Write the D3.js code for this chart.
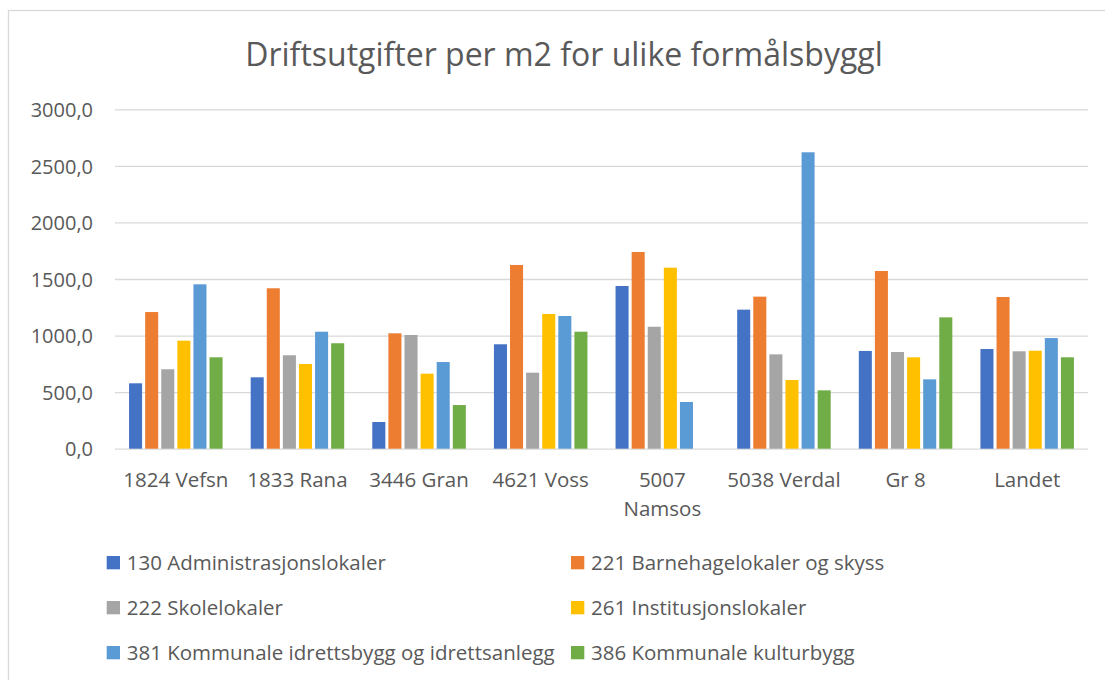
<!DOCTYPE html>
<html>
<head>
<meta charset="utf-8">
<script src="https://cdn.jsdelivr.net/npm/d3@7"></script>
<style>
  html, body { margin: 0; padding: 0; background: #fff; }
  svg { display: block; font-family: "Open Sans", "Noto Sans", sans-serif; }
</style>
</head>
<body>
<svg id="chart" width="1105" height="680"></svg>
<script>
// Kommuner / grupper langs x-aksen
const categories = ["1824 Vefsn", "1833 Rana", "3446 Gran", "4621 Voss", "5007 Namsos", "5038 Verdal", "Gr 8", "Landet"];

// Funksjonsområder (serier)
const seriesNames = [
  "130 Administrasjonslokaler",
  "221 Barnehagelokaler og skyss",
  "222 Skolelokaler",
  "261 Institusjonslokaler",
  "381 Kommunale idrettsbygg og idrettsanlegg",
  "386 Kommunale kulturbygg"
];

// Driftsutgifter per m2, én liste per serie (samme rekkefølge som categories)
const adm130         = [578, 631, 236, 923, 1438, 1229, 864, 881];
const barnehage221   = [1208, 1418, 1020, 1624, 1739, 1344, 1571, 1341];
const skole222       = [702, 826, 1005, 672, 1078, 834, 855, 861];
const institusjon261 = [955, 749, 663, 1191, 1600, 607, 808, 866];
const idrett381      = [1453, 1034, 766, 1173, 413, 2620, 613, 978];
const kultur386      = [808, 932, 386, 1034, null, 516, 1161, 808];

const seriesValues = [adm130, barnehage221, skole222, institusjon261, idrett381, kultur386];
const seriesColors = ["#4472C4", "#ED7D31", "#A5A5A5", "#FFC000", "#5B9BD5", "#70AD47"];

const yTicks = [0, 500, 1000, 1500, 2000, 2500, 3000];
const title = "Driftsutgifter per m2 for ulike formålsbyggl";

const textColor = "#595959";
const gridColor = "#D9D9D9";

const svg = d3.select("#chart");

// Ramme rundt diagramområdet
svg.append("rect")
  .attr("x", 8.5).attr("y", 10.5)
  .attr("width", 1200).attr("height", 800)
  .attr("fill", "#fff")
  .attr("stroke", gridColor).attr("stroke-width", 1.3);

// Tittel
svg.append("text")
  .attr("x", 564).attr("y", 66)
  .attr("text-anchor", "middle")
  .attr("font-size", 32)
  .attr("font-weight", 400)
  .attr("fill", textColor)
  .text(title);

const plotLeft = 115, plotRight = 1088, plotTop = 109.3, plotBottom = 448.7;

const x0 = d3.scaleBand()
  .domain(categories)
  .range([plotLeft, plotRight])
  .paddingInner(0.206)
  .paddingOuter(0.103);

const x1 = d3.scaleBand()
  .domain(d3.range(seriesNames.length))
  .range([0, x0.bandwidth()])
  .paddingInner(0.19)
  .paddingOuter(0.095);

const y = d3.scaleLinear()
  .domain([0, 3000])
  .range([plotBottom, plotTop]);

const locale = d3.formatLocale({ decimal: ",", thousands: "", grouping: [3], currency: ["", ""] });
const fmt = locale.format(".1f");

// Y-akse med rutenett
const yAxis = svg.append("g")
  .attr("transform", `translate(${plotLeft},0)`)
  .call(d3.axisLeft(y)
    .tickValues(yTicks)
    .tickFormat(fmt)
    .tickSize(-(plotRight - plotLeft))
    .tickPadding(22));
yAxis.select(".domain").remove();
yAxis.selectAll(".tick line").attr("stroke", gridColor).attr("stroke-width", 1.3);
yAxis.selectAll(".tick text")
  .attr("fill", textColor)
  .attr("font-size", 20)
  .attr("font-family", "'Open Sans', sans-serif")
  .attr("dy", "0.36em");

// Søyler
const groups = svg.append("g")
  .selectAll("g")
  .data(categories)
  .join("g")
  .attr("transform", d => `translate(${x0(d)},0)`);

groups.selectAll("rect")
  .data((d, ci) => seriesValues.map((vals, si) => ({ si, v: vals[ci] })).filter(o => o.v != null))
  .join("rect")
  .attr("x", d => x1(d.si))
  .attr("width", x1.bandwidth())
  .attr("y", d => y(d.v))
  .attr("height", d => y(0) - y(d.v))
  .attr("fill", d => seriesColors[d.si]);

// X-akse med kategorinavn (brytes over flere linjer ved behov)
const xAxis = svg.append("g")
  .attr("transform", `translate(0,${plotBottom})`)
  .call(d3.axisBottom(x0).tickSize(0).tickPadding(24));
xAxis.select(".domain").remove();
xAxis.selectAll(".tick text")
  .attr("fill", textColor)
  .attr("font-size", 20.5)
  .attr("font-family", "'Open Sans', sans-serif")
  .call(wrap, x0.step());

function wrap(sel, width) {
  sel.each(function () {
    const t = d3.select(this);
    const words = t.text().split(/\s+/);
    const yAttr = t.attr("y");
    const dy = parseFloat(t.attr("dy"));
    t.text(null);
    let line = [];
    let lineNo = 0;
    let tspan = t.append("tspan").attr("x", 0).attr("y", yAttr).attr("dy", dy + "em");
    for (const w of words) {
      line.push(w);
      tspan.text(line.join(" "));
      if (tspan.node().getComputedTextLength() > width && line.length > 1) {
        line.pop();
        tspan.text(line.join(" "));
        line = [w];
        lineNo++;
        tspan = t.append("tspan").attr("x", 0).attr("y", yAttr)
          .attr("dy", (lineNo * 1.42 + dy) + "em").text(w);
      }
    }
  });
}

// Forklaring
const legendCols = [106.7, 571];
const legendRows = [556, 601, 646];
const legend = svg.append("g")
  .selectAll("g")
  .data(seriesNames)
  .join("g")
  .attr("transform", (d, i) => `translate(${legendCols[i % 2]},${legendRows[Math.floor(i / 2)]})`);

legend.append("rect")
  .attr("width", 13.3).attr("height", 13.3)
  .attr("fill", (d, i) => seriesColors[i]);

legend.append("text")
  .attr("x", 20)
  .attr("y", 6.7)
  .attr("dy", "0.36em")
  .attr("font-size", 20.5)
  .attr("fill", textColor)
  .text(d => d);
</script>
</body>
</html>
